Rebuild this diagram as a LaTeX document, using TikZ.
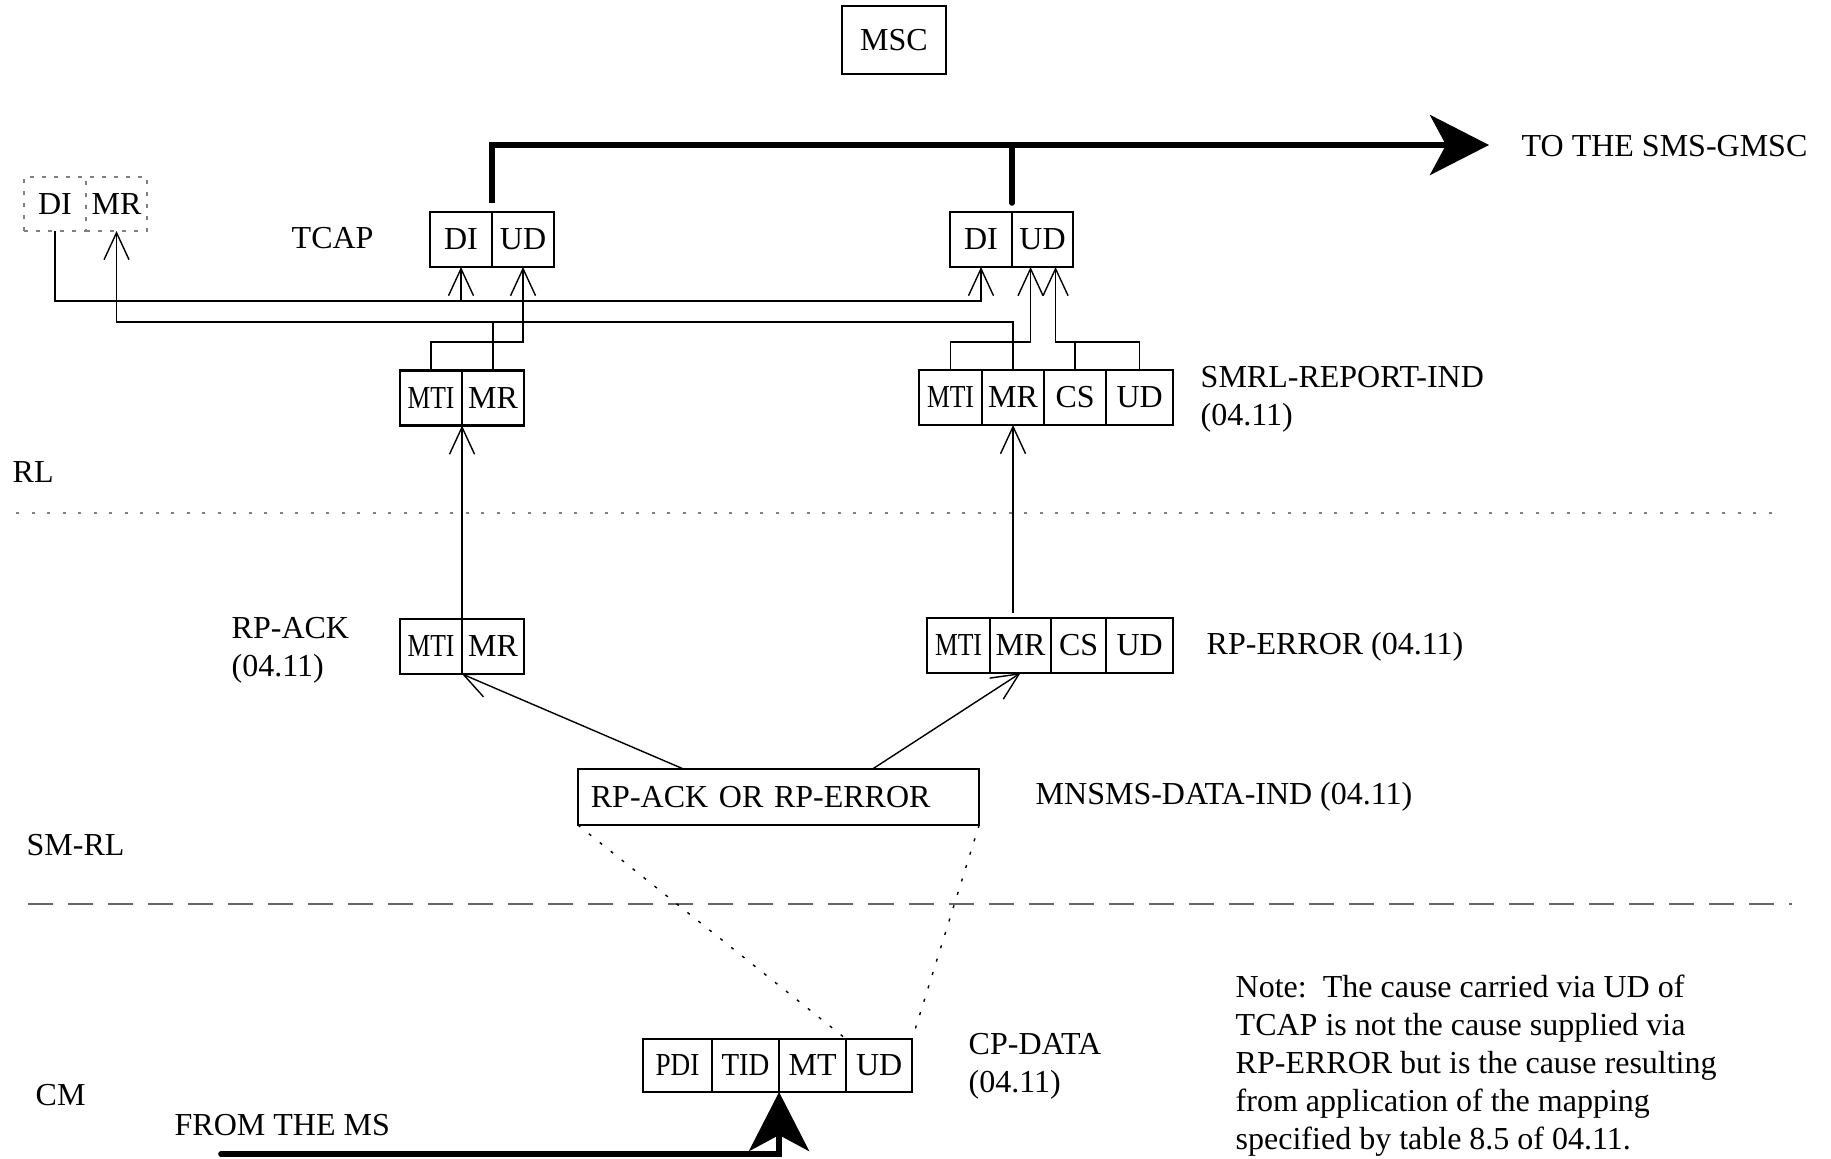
\documentclass[tikz,border=0pt]{standalone}
\usepackage{fontspec}
\setmainfont{Liberation Serif}
\usepackage{graphicx}
\usetikzlibrary{positioning,arrows.meta}

\begin{document}
\begin{tikzpicture}[x=0.01cm,y=-0.01cm,
  font=\fontsize{9.1}{10.8}\selectfont,
  cell/.style={draw,line width=0.7pt,inner sep=0pt,outer sep=0pt,minimum height=0.55cm},
  ghost/.style={draw=gray,dash pattern=on 0.04cm off 0.08cm,inner sep=0pt,outer sep=0pt,minimum height=0.54cm},
  lbl/.style={inner sep=0pt,anchor=west,align=left},
  sig/.style={line width=0.4pt,-{Straight Barb[length=2.7mm,width=2.5mm]}},
  wire/.style={line width=0.4pt},
  link/.style={line width=0.4pt,dash pattern=on 0.03cm off 0.11cm},
  bigline/.style={line width=1.6pt},
  bigarrow/.style={line width=1.6pt,-{Stealth[length=5.9mm,width=6mm,inset=1.6mm]}}]

\useasboundingbox (0,0) rectangle (1831,1158);

\node[draw,line width=0.4pt,minimum width=1.04cm,minimum height=0.68cm] (msc) at (894,40) {MSC};

% TCAP
\node[ghost,minimum width=0.62cm] (dashDI) at (55,204) {DI};
\node[ghost,minimum width=0.61cm,right=0pt of dashDI] (dashMR) {MR};
\node[cell,minimum width=0.62cm] (tcapaDI) at (461,239.5) {DI};
\node[cell,minimum width=0.62cm,right=0pt of tcapaDI] (tcapaUD) {UD};
\node[cell,minimum width=0.62cm] (tcapbDI) at (981,239.5) {DI};
\node[cell,minimum width=0.61cm,right=0pt of tcapbDI] (tcapbUD) {UD};

% RL
\node[cell,minimum width=0.62cm] (rlaMTI) at (431,398) {\scalebox{0.8}[1]{MTI}};
\node[cell,minimum width=0.62cm,right=0pt of rlaMTI] (rlaMR) {MR};
\node[cell,minimum width=0.63cm] (rlbMTI) at (950.5,397.5) {\scalebox{0.8}[1]{MTI}};
\node[cell,minimum width=0.62cm,right=0pt of rlbMTI] (rlbMR) {MR};
\node[cell,minimum width=0.62cm,right=0pt of rlbMR] (rlbCS) {CS};
\node[cell,minimum width=0.67cm,right=0pt of rlbCS] (rlbUD) {UD};

% SM-RL
\node[cell,minimum width=0.62cm] (rpackMTI) at (431,646.5) {\scalebox{0.8}[1]{MTI}};
\node[cell,minimum width=0.62cm,right=0pt of rpackMTI] (rpackMR) {MR};
\node[cell,minimum width=0.63cm] (rperrMTI) at (958.5,645.5) {\scalebox{0.8}[1]{MTI}};
\node[cell,minimum width=0.61cm,right=0pt of rperrMTI] (rperrMR) {MR};
\node[cell,minimum width=0.55cm,right=0pt of rperrMR] (rperrCS) {CS};
\node[cell,minimum width=0.67cm,right=0pt of rperrCS] (rperrUD) {UD};
\node[cell,minimum width=4.01cm,minimum height=0.56cm,inner xsep=0.13cm,text width=3.75cm,align=left] (rpdata) at (778.5,797) {RP-ACK OR RP-ERROR};

% CM
\node[cell,minimum width=0.69cm,minimum height=0.53cm] (cpPDI) at (677.5,1065.5) {\scalebox{0.85}[1]{PDI}};
\node[cell,minimum width=0.67cm,minimum height=0.53cm,right=0pt of cpPDI] (cpTID) {\scalebox{0.9}[1]{TID}};
\node[cell,minimum width=0.67cm,minimum height=0.53cm,right=0pt of cpTID] (cpMT) {MT};
\node[cell,minimum width=0.66cm,minimum height=0.53cm,right=0pt of cpMT] (cpUD) {UD};

% layer lines
\draw[gray,dash pattern=on 0.03cm off 0.125cm] (16,513) -- (1780,513);
\draw[gray!80!black,line width=0.6pt,dash pattern=on 0.25cm off 0.15cm] (28,904) -- (1792,904);

% labels
\node[lbl] (gmscTxt) at (1521,146) {TO THE SMS-GMSC};
\node[lbl] (tcapTxt) at (291,238) {TCAP};
\node[lbl] (rlTxt) at (12,472) {RL};
\node[lbl] (smrlTxt) at (26,845) {SM-RL};
\node[lbl] (cmTxt) at (35,1095) {CM};
\node[lbl] (reportTxt) at (1200,399) {SMRL-REPORT-IND\\(04.11)};
\node[lbl] (errTxt) at (1206,647) {RP-ERROR (04.11)};
\node[lbl] (ackTxt) at (231,650) {RP-ACK\\(04.11)};
\node[lbl] (dataIndTxt) at (1035,797) {MNSMS-DATA-IND (04.11)};
\node[lbl] (cpTxt) at (968,1066) {CP-DATA\\(04.11)};
\node[lbl] (msTxt) at (174,1125) {FROM THE MS};
\node[lbl] (noteTxt) at (1235,1066) {Note:\ \ The cause carried via UD of\\TCAP is not the cause supplied via\\RP-ERROR but is the cause resulting\\from application of the mapping\\specified by table 8.5 of 04.11.};

% connectors
\coordinate (diBus) at (0,301);
\coordinate (mrBus) at (0,322);
\coordinate (udBus) at (0,342);
\coordinate (udInA) at ([xshift=-0.12cm]tcapbUD.south);
\coordinate (udInB) at ([xshift=0.13cm]tcapbUD.south);

\draw[sig] (dashDI.south) -- (dashDI.south |- diBus) -| (tcapbDI.south);
\draw[sig] (tcapaDI.south |- diBus) -- (tcapaDI.south);
\draw[sig] (rlaMR.north) -- (rlaMR.north |- mrBus) -| (dashMR.south);
\draw[wire] (rlbMR.north) |- (rlaMR.north |- mrBus);
\draw[sig] (rlaMTI.north) |- (tcapaUD.south |- udBus) -- (tcapaUD.south);
\draw[sig] (rlbMTI.north) |- (udInA |- udBus) -- (udInA);
\draw[sig] (rlbUD.north) |- (udInB |- udBus) -- (udInB);
\draw[wire] (rlbCS.north) -- (rlbCS.north |- udBus);

\draw[sig] (rpackMTI.north east) -- (rlaMTI.south east);
\draw[sig,shorten <=0.05cm] (rlbMR.south |- rperrMR.north) -- (rlbMR.south);
\draw[sig] ([xshift=-0.95cm]rpdata.north) -- (rpackMTI.south east);
\draw[sig] ([xshift=0.94cm]rpdata.north) -- (rperrMR.south);

\draw[link] (rpdata.south west) -- (cpMT.north east);
\draw[link] (rpdata.south east) -- (cpUD.north east);

\coordinate (gmsc) at (1489,145);
\draw[bigarrow,shorten <=0.09cm] (tcapaDI.north east) |- (gmsc);
\draw[bigline,line cap=round,shorten <=0.09cm] (tcapbDI.north east) -- (tcapbDI.north east |- gmsc);
\coordinate (msIn) at (221,1154);
\draw[bigarrow,line cap=round] (msIn) -| (cpTID.south east);
\end{tikzpicture}
\end{document}
